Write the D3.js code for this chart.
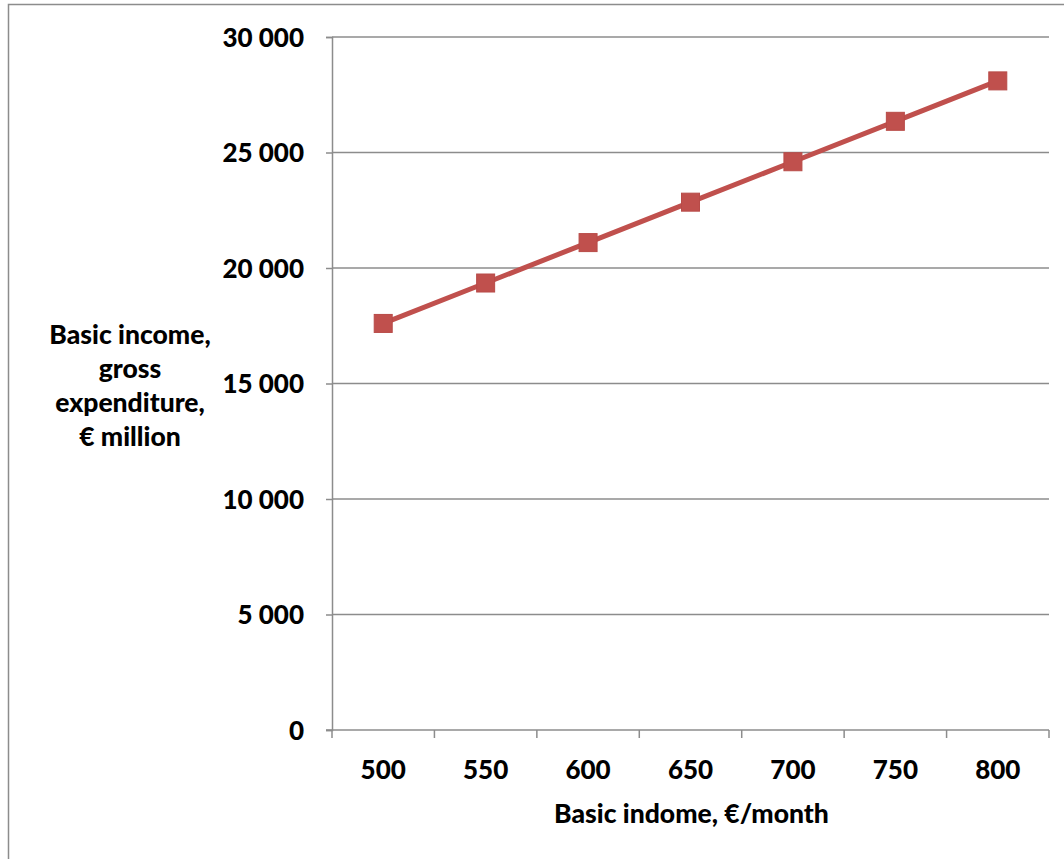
<!DOCTYPE html>
<html>
<head>
<meta charset="utf-8">
<script src="https://cdn.jsdelivr.net/npm/d3@7"></script>
<style>
  body { margin: 0; background: #fff; }
  text { font-family: Lato, "Open Sans", sans-serif; font-weight: 900; fill: #000; }
</style>
</head>
<body>
<svg id="chart" width="1064" height="859"></svg>
<script>
// values
const categories = ['500', '550', '600', '650', '700', '750', '800']
const expenditure = [17600, 19350, 21100, 22850, 24600, 26350, 28100]
const yTicks = [0, 5000, 10000, 15000, 20000, 25000, 30000]
const yTitleLines = ['Basic income,', 'gross', 'expenditure,', '€ million']
const xTitle = 'Basic indome, €/month'

const svg = d3.select('#chart')
const axisColor = '#8c8c8c'

// outer frame
svg.append('rect')
  .attr('x', 8.5).attr('y', 4.5)
  .attr('width', 1100).attr('height', 900)
  .attr('fill', 'none')
  .attr('stroke', axisColor)
  .attr('stroke-width', 1.5)

const plotLeft = 332, plotRight = 1049, plotTop = 37, plotBottom = 730

const x = d3.scaleBand().domain(categories).range([plotLeft, plotRight])
const y = d3.scaleLinear().domain([0, 30000]).range([plotBottom, plotTop])

const fmt = d => d3.format(',')(d).replace(/,/g, ' ')

// gridlines
svg.append('g')
  .selectAll('line')
  .data(yTicks.filter(d => d > 0))
  .enter()
  .append('line')
  .attr('x1', plotLeft).attr('x2', plotRight)
  .attr('y1', d => y(d)).attr('y2', d => y(d))
  .attr('stroke', axisColor)
  .attr('stroke-width', 1.5)

// y axis
const yAxis = svg.append('g')
  .attr('transform', 'translate(' + plotLeft + ',0)')
  .call(d3.axisLeft(y).tickValues(yTicks).tickSize(6).tickPadding(22).tickFormat(fmt))
yAxis.select('.domain').attr('stroke', axisColor).attr('stroke-width', 1.5)
yAxis.selectAll('line').attr('stroke', axisColor).attr('stroke-width', 1.5)
yAxis.selectAll('text').style('font-size', '26px').attr('dy', '0.36em')

// x axis: ticks between categories
const xAxisG = svg.append('g').attr('transform', 'translate(0,' + plotBottom + ')')
xAxisG.append('line')
  .attr('x1', plotLeft - 6).attr('x2', plotRight)
  .attr('stroke', axisColor).attr('stroke-width', 1.5)
const boundaries = categories.map(c => x(c)).concat([plotRight])
xAxisG.selectAll('.tick-mark')
  .data(boundaries)
  .enter()
  .append('line')
  .attr('class', 'tick-mark')
  .attr('x1', d => d).attr('x2', d => d)
  .attr('y1', 0).attr('y2', 8)
  .attr('stroke', axisColor).attr('stroke-width', 1.5)
xAxisG.selectAll('.tick-label')
  .data(categories)
  .enter()
  .append('text')
  .attr('class', 'tick-label')
  .attr('x', d => x(d) + x.bandwidth() / 2)
  .attr('y', 49)
  .attr('text-anchor', 'middle')
  .style('font-size', '26px')
  .text(d => d)

// axis titles
svg.append('text')
  .attr('x', (plotLeft + plotRight) / 2 + 1)
  .attr('y', 823)
  .attr('text-anchor', 'middle')
  .style('font-size', '26.5px')
  .text(xTitle)

svg.append('g')
  .selectAll('text')
  .data(yTitleLines)
  .enter()
  .append('text')
  .attr('x', 130)
  .attr('y', (d, i) => 344 + i * 34)
  .attr('text-anchor', 'middle')
  .style('font-size', '26.5px')
  .text(d => d)

// series line + square markers
const cx = d => x(d) + x.bandwidth() / 2
const line = d3.line()
  .x((d, i) => cx(categories[i]))
  .y(d => y(d))

svg.append('path')
  .datum(expenditure)
  .attr('d', line)
  .attr('fill', 'none')
  .attr('stroke', '#C0504D')
  .attr('stroke-width', 5)

svg.append('g')
  .selectAll('rect')
  .data(expenditure)
  .enter()
  .append('rect')
  .attr('x', (d, i) => cx(categories[i]) - 9)
  .attr('y', d => y(d) - 9)
  .attr('width', 18).attr('height', 18)
  .attr('fill', '#C0504D')
  .attr('stroke', '#B84B48')
  .attr('stroke-width', 1)
</script>
</body>
</html>
